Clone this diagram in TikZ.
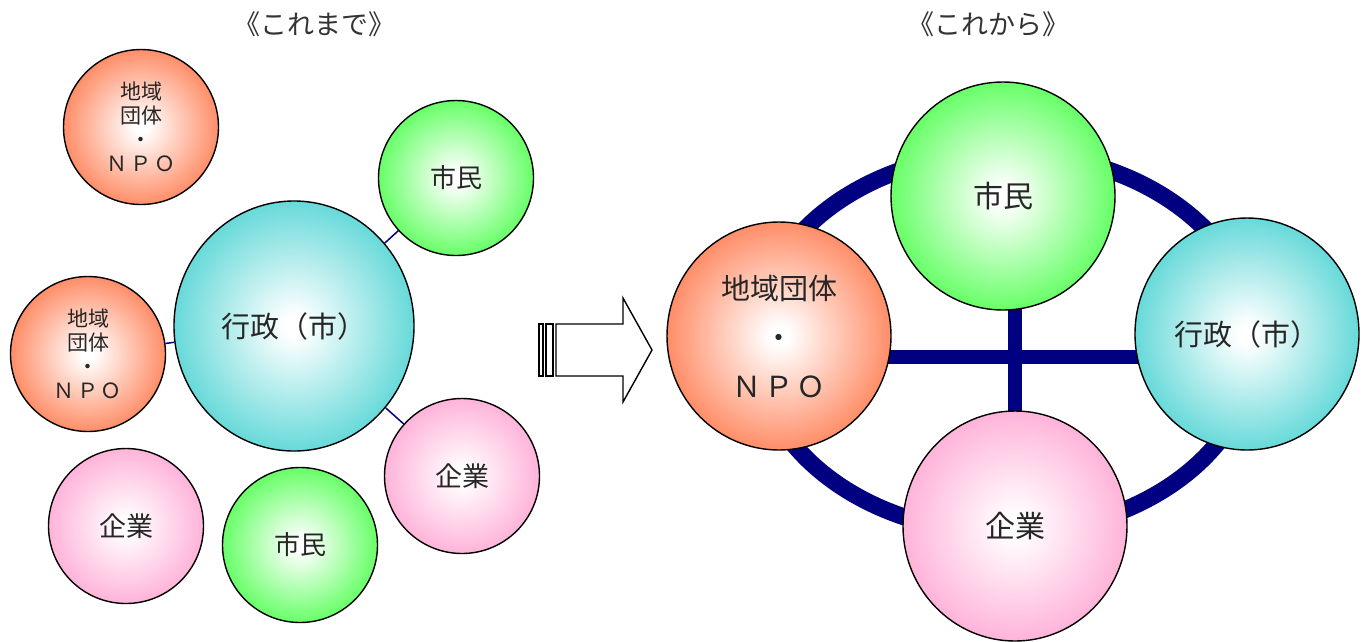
\documentclass[tikz,border=0pt]{standalone}
\usepackage{fontspec}
\newfontfamily\jp{Noto Sans CJK JP}
\usetikzlibrary{backgrounds,shapes.geometric}
\definecolor{cOrange}{HTML}{FF6633}
\definecolor{cGreen}{HTML}{33FF33}
\definecolor{cTeal}{HTML}{33CCCC}
\definecolor{cPink}{HTML}{FF99CC}
\definecolor{cNavy}{HTML}{000080}
\pgfdeclareradialshading{shOrange}{\pgfpoint{0bp}{0bp}}{color(0bp)=(white);color(2bp)=(white);color(33bp)=(cOrange);color(50bp)=(cOrange)}
\pgfdeclareradialshading{shGreen}{\pgfpoint{0bp}{0bp}}{color(0bp)=(white);color(2bp)=(white);color(33bp)=(cGreen);color(50bp)=(cGreen)}
\pgfdeclareradialshading{shTeal}{\pgfpoint{0bp}{0bp}}{color(0bp)=(white);color(2bp)=(white);color(33bp)=(cTeal);color(50bp)=(cTeal)}
\pgfdeclareradialshading{shPink}{\pgfpoint{0bp}{0bp}}{color(0bp)=(white);color(2bp)=(white);color(33bp)=(cPink);color(50bp)=(cPink)}
\begin{document}
\begin{tikzpicture}[x=1pt,y=-1pt,
  ball/.style={ellipse, draw=black, line width=1.4pt, inner sep=0pt, align=center, font=\jp, text=black!85},
  small/.style={ball, minimum width=155pt, minimum height=155pt},
  big/.style={ball, minimum width=224pt, minimum height=228pt},
  orangeball/.style={shading=shOrange},
  greenball/.style={shading=shGreen},
  tealball/.style={shading=shTeal},
  pinkball/.style={shading=shPink},
  thinlink/.style={draw=cNavy, line width=1.5pt},
  ringline/.style={draw=cNavy, line width=17pt},
  crossline/.style={draw=cNavy, line width=14pt},
  title/.style={font=\jp\fontsize{27}{30}\selectfont, text=black!80},
  arrowline/.style={draw=black, line width=1.4pt, fill=white, line join=miter}
]
\useasboundingbox (0,0) rectangle (1370,641);

% titles
\node[title] (t1) at (314,24) {《これまで》};
\node[title] (t2) at (988,24) {《これから》};

% ---- left: これまで ----
\node[small, orangeball, font=\jp\fontsize{21}{24}\selectfont] (npoA) at (141,127) {地域\\団体\\・\\Ｎ\hspace{0.12em}Ｐ\hspace{0.12em}Ｏ};
\node[small, greenball, font=\jp\fontsize{26}{28}\selectfont] (shiminA) at (456,178) {市民};
\node[ball, tealball, minimum width=240pt, minimum height=250pt, font=\jp\fontsize{29}{30}\selectfont] (gyoA) at (294,326) {行政（市）};
\node[small, orangeball, font=\jp\fontsize{21}{24}\selectfont] (npoB) at (88,354) {地域\\団体\\・\\Ｎ\hspace{0.12em}Ｐ\hspace{0.12em}Ｏ};
\node[small, pinkball, font=\jp\fontsize{27}{28}\selectfont] (kigyoA) at (126,526) {企業};
\node[small, greenball, font=\jp\fontsize{26}{28}\selectfont] (shiminB) at (300,545) {市民};
\node[small, pinkball, font=\jp\fontsize{27}{28}\selectfont] (kigyoB) at (462,476) {企業};

\draw[thinlink] (gyoA) -- (shiminA);
\draw[thinlink] (gyoA) -- (npoB);
\draw[thinlink] (gyoA) -- (kigyoB);

% ---- arrow ----
\draw[arrowline] (539,324) rectangle (543,376);
\draw[arrowline] (546,324) rectangle (553,376);
\draw[arrowline] (556,324) -- (623,324) -- (623,298) -- (652,350) -- (623,402) -- (623,376) -- (556,376) -- cycle;

% ---- right: これから ----
\node[big, greenball, font=\jp\fontsize{30}{32}\selectfont] (shiminR) at (1003,196) {市民};
\node[big, orangeball, font=\jp\fontsize{29}{49}\selectfont] (npoR) at (779,336) {地域団体\\・\\Ｎ\hspace{0.12em}Ｐ\hspace{0.12em}Ｏ};
\node[big, tealball, minimum height=232pt, font=\jp\fontsize{29}{32}\selectfont] (gyoR) at (1247,334) {行政（市）};
\node[big, pinkball, minimum height=230pt, font=\jp\fontsize{30}{32}\selectfont] (kigyoR) at (1015,526) {企業};

\coordinate (ringc) at (1005,343);
\coordinate (hL) at (880,357);
\coordinate (hR) at (1140,357);
\coordinate (vT) at (1015,300);
\coordinate (vB) at (1015,415);
\begin{pgfonlayer}{background}
  \draw[ringline] (ringc) ellipse [x radius=250pt, y radius=190pt];
  \draw[crossline] (hL) -- (hR);
  \draw[crossline] (vT) -- (vB);
\end{pgfonlayer}
\end{tikzpicture}
\end{document}
